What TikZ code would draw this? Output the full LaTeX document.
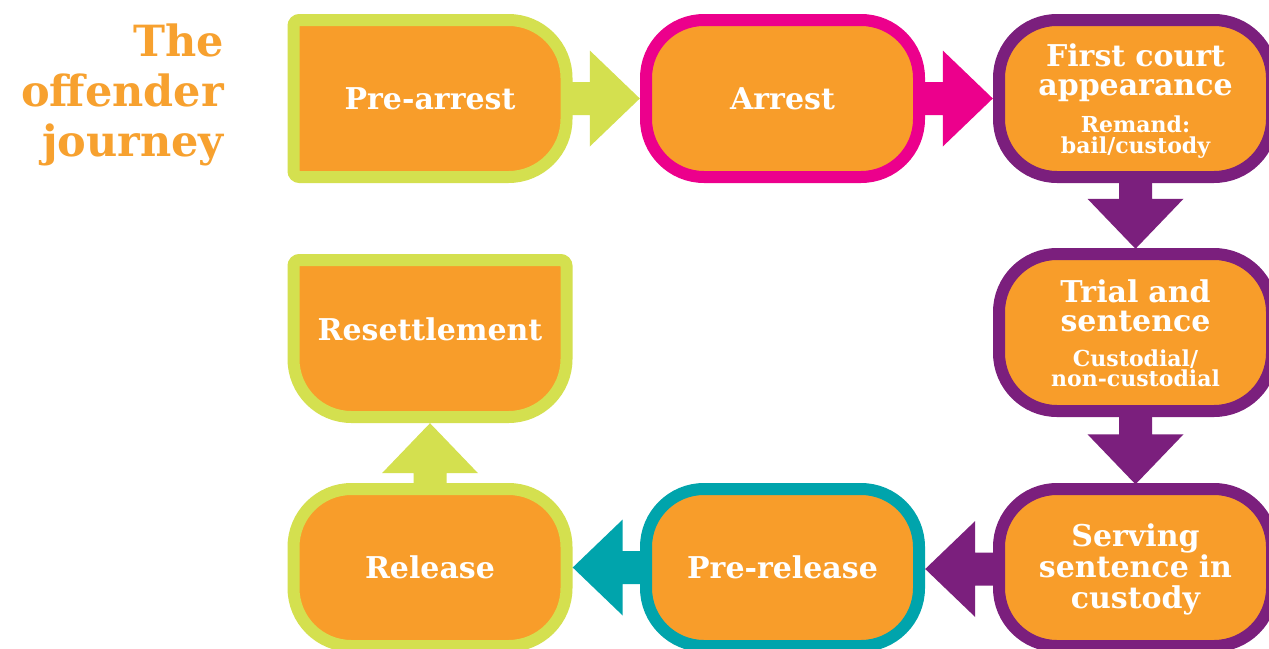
\documentclass[tikz,border=0pt]{standalone}
\usepackage{fontspec}
\setmainfont{DejaVu Serif}
\usetikzlibrary{calc}
\definecolor{boxorange}{HTML}{F89D2A}
\definecolor{titleorange}{HTML}{F7A12F}
\definecolor{clime}{HTML}{D4E04F}
\definecolor{cmag}{HTML}{EC008C}
\definecolor{cpurp}{HTML}{7B1F7D}
\definecolor{cteal}{HTML}{00A4AC}
\tikzset{
  stagetext/.style={text=white, font=\bfseries\fontsize{30}{29}\selectfont,
    text width=285pt, align=center, minimum width=285pt, minimum height=169pt, inner sep=0pt},
  bordershape/.style={line width=12pt, fill=boxorange},
}
% cx, cy, colour, radius top-left, top-right, bottom-right, bottom-left
\newcommand\stageshape[7]{%
  \draw[bordershape, draw=#3]
    ({#1-136.5},{#2-78.5+#4}) arc[start angle=180,end angle=90,radius=#4pt]
    -- ({#1+136.5-#5},{#2-78.5}) arc[start angle=90,end angle=0,radius=#5pt]
    -- ({#1+136.5},{#2+78.5-#6}) arc[start angle=0,end angle=-90,radius=#6pt]
    -- ({#1-136.5+#7},{#2+78.5}) arc[start angle=270,end angle=180,radius=#7pt]
    -- cycle;}
\newcommand\arrowright[3]{%
  \fill[#3] let \p1=(#1.east), \p2=(#2.west) in
    ({\x1-6pt},{\y1+16.5pt}) -- ({\x2-50pt},{\y1+16.5pt}) -- ({\x2-50pt},{\y1+48pt})
    -- (\x2,\y1) -- ({\x2-50pt},{\y1-48pt}) -- ({\x2-50pt},{\y1-16.5pt})
    -- ({\x1-6pt},{\y1-16.5pt}) -- cycle;}
\newcommand\arrowleft[3]{%
  \fill[#3] let \p1=(#1.west), \p2=(#2.east) in
    ({\x1+6pt},{\y1+16.5pt}) -- ({\x2+50pt},{\y1+16.5pt}) -- ({\x2+50pt},{\y1+48pt})
    -- (\x2,\y1) -- ({\x2+50pt},{\y1-48pt}) -- ({\x2+50pt},{\y1-16.5pt})
    -- ({\x1+6pt},{\y1-16.5pt}) -- cycle;}
\newcommand\arrowdown[3]{%
  \fill[#3] let \p1=(#1.south), \p2=(#2.north) in
    ({\x1-16.5pt},{\y1+6pt}) -- ({\x1-16.5pt},{\y2+50pt}) -- ({\x1-48pt},{\y2+50pt})
    -- (\x1,\y2) -- ({\x1+48pt},{\y2+50pt}) -- ({\x1+16.5pt},{\y2+50pt})
    -- ({\x1+16.5pt},{\y1+6pt}) -- cycle;}
\newcommand\arrowup[3]{%
  \fill[#3] let \p1=(#1.north), \p2=(#2.south) in
    ({\x1-16.5pt},{\y1-6pt}) -- ({\x1-16.5pt},{\y2-50pt}) -- ({\x1-48pt},{\y2-50pt})
    -- (\x1,\y2) -- ({\x1+48pt},{\y2-50pt}) -- ({\x1+16.5pt},{\y2-50pt})
    -- ({\x1+16.5pt},{\y1-6pt}) -- cycle;}
\begin{document}
\begin{tikzpicture}[x=1pt,y=-1pt]
\useasboundingbox (0,0) rectangle (1269,648);
\fill[white] (0,0) rectangle (1269,648);

\node[text=titleorange, font=\bfseries\fontsize{43}{50}\selectfont, text width=260pt,
  align=right, anchor=north east, inner sep=0pt] (title) at (224,24) {The\\offender\\journey};

% shapes
\stageshape{430}{98.5}{clime}{6}{58}{58}{6}
\stageshape{782.5}{98.5}{cmag}{58}{58}{58}{58}
\stageshape{1135.5}{98.5}{cpurp}{58}{58}{58}{58}
\stageshape{1135.5}{332.5}{cpurp}{58}{58}{58}{58}
\stageshape{1135.5}{567.5}{cpurp}{58}{58}{58}{58}
\stageshape{782.5}{567.5}{cteal}{58}{58}{58}{58}
\stageshape{430}{567.5}{clime}{58}{58}{58}{58}
\stageshape{430}{338.5}{clime}{6}{6}{58}{58}

% texts
\node[stagetext] (fc) at (1135.5,101) {First court\\appearance\par\vspace{13pt}%
  {\fontsize{22}{21}\selectfont Remand:\\bail/custody\par}};
\node[stagetext] (ts) at (1135.5,333.5) {Trial and\\sentence\par\vspace{14pt}%
  {\fontsize{22}{20.5}\selectfont Custodial/\\non-custodial\par}};
\node[stagetext] (pa) at (430,98.5) {Pre-arrest};
\node[stagetext] (ar) at (782.5,98.5) {Arrest};
\node[stagetext, font=\bfseries\fontsize{30}{31}\selectfont] (sv) at (1135.5,569) {Serving\\sentence in\\custody};
\node[stagetext] (pr) at (782.5,567.5) {Pre-release};
\node[stagetext] (rl) at (430,567.5) {Release};
\node[stagetext, text height=23pt, text depth=20pt] (rs) at (430,338.5) {Resettlement};

% connectors
\arrowright{pa}{ar}{clime}
\arrowright{ar}{fc}{cmag}
\arrowdown{fc}{ts}{cpurp}
\arrowdown{ts}{sv}{cpurp}
\arrowleft{sv}{pr}{cpurp}
\arrowleft{pr}{rl}{cteal}
\arrowup{rl}{rs}{clime}
\end{tikzpicture}
\end{document}
